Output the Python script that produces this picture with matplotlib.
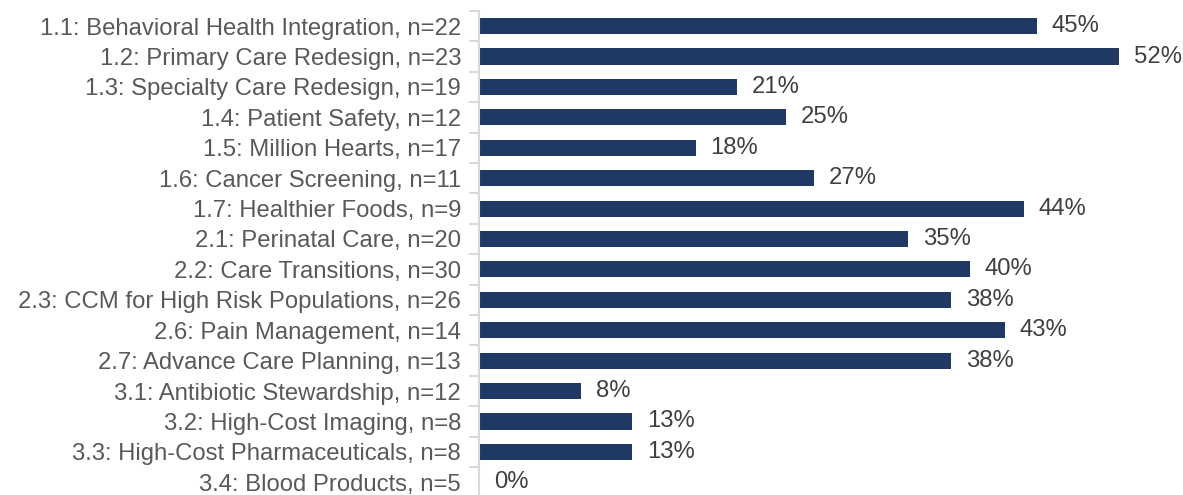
import numpy as np
import matplotlib.pyplot as plt

plt.rcParams['font.family'] = ['Liberation Sans', 'DejaVu Sans']

categories = ['1.1: Behavioral Health Integration, n=22',
              '1.2: Primary Care Redesign, n=23',
              '1.3: Specialty Care Redesign, n=19',
              '1.4: Patient Safety, n=12',
              '1.5: Million Hearts, n=17',
              '1.6: Cancer Screening, n=11',
              '1.7: Healthier Foods, n=9',
              '2.1: Perinatal Care, n=20',
              '2.2: Care Transitions, n=30',
              '2.3: CCM for High Risk Populations, n=26',
              '2.6: Pain Management, n=14',
              '2.7: Advance Care Planning, n=13',
              '3.1: Antibiotic Stewardship, n=12',
              '3.2: High-Cost Imaging, n=8',
              '3.3: High-Cost Pharmaceuticals, n=8',
              '3.4: Blood Products, n=5']
values = [45.45, 52.17, 21.05, 25.0, 17.65, 27.27, 44.44, 35.0, 40.0,
          38.46, 42.86, 38.46, 8.33, 12.5, 12.5, 0.0]

fig = plt.figure(figsize=(11.83, 4.95), dpi=100)
ax = fig.add_axes([0.405, -0.005, 0.591, 0.983])

y = np.arange(len(categories))
ax.barh(y, values, height=0.53, color='#1F3864')
for yi, v in zip(y, values):
    ax.text(v + 1.2, yi, '%d%%' % int(v + 0.5), va='center', ha='left',
            fontsize=17.2, color='#404040')

ax.set_ylim(len(categories) - 0.5, -0.5)
ax.set_xlim(0, 57)
ax.set_yticks(y)
ax.set_yticklabels(categories, fontsize=17.2, color='#595959')
ax.set_yticks(np.arange(-0.5, len(categories) - 0.5), minor=True)
ax.tick_params(axis='y', which='major', length=0, pad=13)
ax.tick_params(axis='y', which='minor', length=7, color='#D9D9D9', width=1.5)
ax.set_xticks([])
for s in ['top', 'right', 'bottom']:
    ax.spines[s].set_visible(False)
ax.spines['left'].set_color('#D9D9D9')
ax.spines['left'].set_linewidth(1.5)

fig.savefig('out.png', dpi=100)
